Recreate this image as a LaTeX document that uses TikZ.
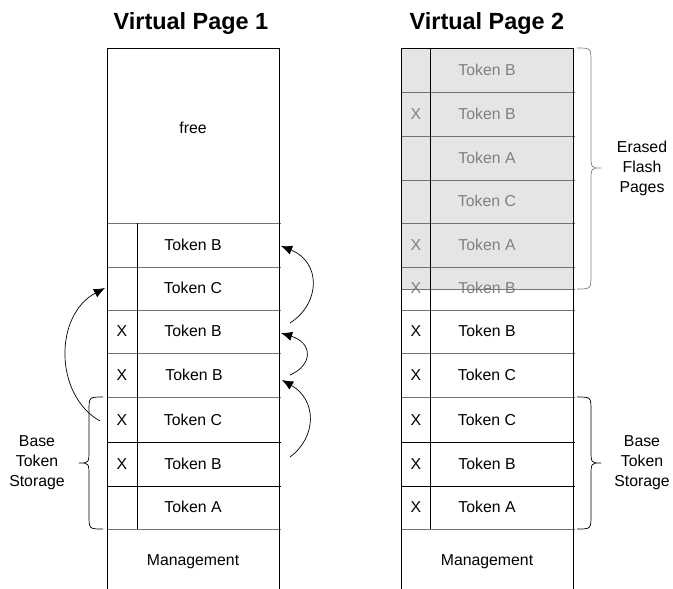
\documentclass[tikz,border=0pt]{standalone}
\usepackage{fontspec}
\setmainfont{Liberation Sans}
\usetikzlibrary{arrows.meta}

\begin{document}
\begin{tikzpicture}[x=0.03cm, y=-0.03cm, line width=0.6pt,
	font=\fontsize{13.5}{17}\selectfont,
	title/.style={font=\fontsize{20}{24}\selectfont\bfseries},
	sep/.style={draw=black!55},
	erased/.style={text=black!50},
	side/.style={align=center},
	move/.style={-{Latex[length=9.5pt,width=8pt]}}]
	\useasboundingbox (0,0) rectangle (673,589);
	\node[title] (p1) at (191,23) {Virtual Page 1};
	\node[title] (p2) at (487,23) {Virtual Page 2};
	\fill[black!10] (401,48) rectangle (573,289);
	\foreach \y in {223,267,310,353,397,529} \draw[sep] (107,\y) -- (281,\y);
	\foreach \y in {442,486} \draw (107,\y) -- (281,\y);
	\foreach \y in {92,136,180,223,267,289,310,353,397,529} \draw[sep] (401,\y) -- (575,\y);
	\foreach \y in {442,486} \draw (401,\y) -- (575,\y);
	\draw (107,589) -- (107,48) -- (279,48) -- (279,589);
	\draw (137,223) -- (137,529);
	\draw (401,589) -- (401,48) -- (573,48) -- (573,589);
	\draw (430,48) -- (430,529);

	\node (free) at (193,128) {free};
	\node (l5)  at (193,245) {Token B};
	\node (l6)  at (193,288) {Token C};
	\node (lx7) at (122,331) {X};
	\node (l7)  at (193,331) {Token B};
	\node (lx8) at (122,375) {X};
	\node (l8)  at (194,375) {Token B};
	\node (lx9) at (122,420) {X};
	\node (l9)  at (193,420) {Token C};
	\node (lx10)at (122,464) {X};
	\node (l10) at (193,464) {Token B};
	\node (l11) at (193,507) {Token A};
	\node (lm)  at (193,562) {Management};

	\node[erased] (r1)  at (487,70)  {Token B};
	\node[erased] (rx2) at (416,114) {X};
	\node[erased] (r2)  at (487,114) {Token B};
	\node[erased] (r3)  at (487,158) {Token A};
	\node[erased] (r4)  at (487,201) {Token C};
	\node[erased] (rx5) at (416,245) {X};
	\node[erased] (r5)  at (487,245) {Token A};
	\node[erased] (rx6) at (416,288) {X};
	\node[erased] (r6)  at (487,288) {Token B};
	\node (rx7) at (416,331) {X};
	\node (r7)  at (487,331) {Token B};
	\node (rx8) at (416,375) {X};
	\node (r8)  at (487,375) {Token C};
	\node (rx9) at (416,420) {X};
	\node (r9)  at (487,420) {Token C};
	\node (rx10)at (416,464) {X};
	\node (r10) at (487,464) {Token B};
	\node (rx11)at (416,507) {X};
	\node (r11) at (487,507) {Token A};
	\node (rm)  at (487,562) {Management};

	\draw (103,397) .. controls (89,397) .. (89,411) -- (89,449) .. controls (89,463) .. (79,463)
		.. controls (89,463) .. (89,477) -- (89,515) .. controls (89,529) .. (103,529);
	\draw[black!50] (577,48) .. controls (591,48) .. (591,62) -- (591,154) .. controls (591,168) .. (601,168)
		.. controls (591,168) .. (591,182) -- (591,275) .. controls (591,289) .. (577,289);
	\draw (577,397) .. controls (591,397) .. (591,411) -- (591,449) .. controls (591,463) .. (601,463)
		.. controls (591,463) .. (591,477) -- (591,515) .. controls (591,529) .. (577,529);
	\node[side] (bl) at (37,463) {Base\\Token\\Storage};
	\node[side] (er) at (642,168) {Erased\\Flash\\Pages};
	\node[side] (br) at (642,463) {Base\\Token\\Storage};

	\coordinate (a0) at (100,421);
	\coordinate (a1) at (105,288);
	\coordinate (b0) at (290,323);
	\coordinate (b1) at (281,246);
	\coordinate (c0) at (290,375);
	\coordinate (c1) at (281,333);
	\coordinate (d0) at (290,457);
	\coordinate (d1) at (282,380);
	\draw[move] (a0) .. controls (54,395) and (54,315) .. (a1);
	\draw[move] (b0) .. controls (321,303) and (321,262) .. (b1);
	\draw[move] (c0) .. controls (313,365) and (313,343) .. (c1);
	\draw[move] (d0) .. controls (317,437) and (317,400) .. (d1);
\end{tikzpicture}
\end{document}
